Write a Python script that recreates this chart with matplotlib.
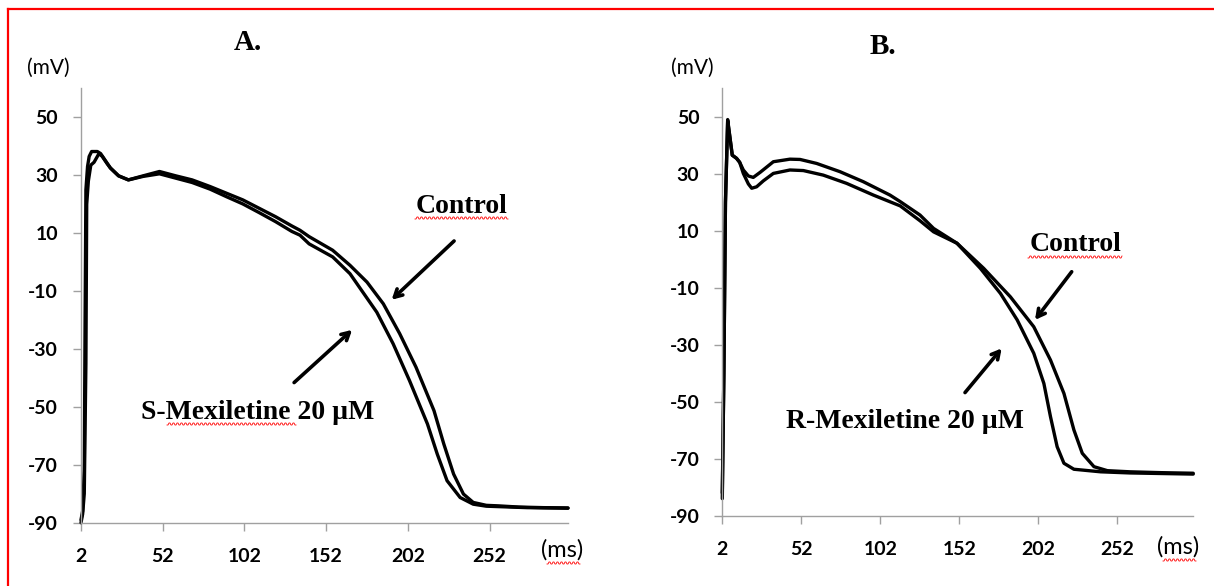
import numpy as np
import matplotlib
matplotlib.use("Agg")
import matplotlib.pyplot as plt
from matplotlib.lines import Line2D

# ---------------- data ----------------
# Panel A
a_ctrl_t = [2, 3, 4, 4.5, 5, 6, 7, 8.5, 12, 14, 17, 20, 25, 31, 40, 50, 60, 70, 81, 91,
            101, 111, 121, 131, 136, 141.6, 156, 166.6, 177, 187, 197, 207, 218, 224, 230,
            236, 242, 250, 258, 270, 285, 300]
a_ctrl_v = [-89, -86, -72, -20, 25, 33, 36.5, 38.2, 38.2, 37.5, 35, 32.5, 29.8, 28.4, 29.8,
            31.3, 29.8, 28.4, 26.1, 23.8, 21.5, 18.6, 15.7, 12.5, 11.0, 8.8, 4.1, -1.1, -6.9,
            -14.4, -24.7, -36.3, -51.3, -62.8, -73.2, -80.1, -83.0, -84.0, -84.2, -84.6,
            -84.8, -84.9]
a_smex_t = [2, 3, 4, 5, 5.5, 6.5, 8, 10, 13, 15, 18, 20, 25, 31, 40, 50, 60, 70, 81, 91,
            101, 111, 121, 131, 136, 141.6, 156, 166.6, 173, 183, 193, 203, 214, 220, 226,
            234, 242, 250, 260, 275, 300]
a_smex_v = [-90, -87, -80, -35, 20, 28, 33.5, 34.5, 37.5, 36.5, 34, 32.5, 29.8, 28.4, 29.6,
            30.5, 29.0, 27.5, 25.2, 22.6, 20.1, 17.1, 14.0, 10.6, 9.3, 6.3, 1.8, -4.0, -9.2,
            -17.3, -28.2, -40.9, -55.9, -66.3, -75.5, -81.3, -83.6, -84.3, -84.5, -84.8,
            -85.0]

# Panel B
b_ctrl_t = [2, 3, 4, 5.4, 7, 8.3, 11, 13, 15.3, 18.5, 21.6, 26, 34.3, 44.8, 51.2, 61.7,
            76.5, 91.2, 108.1, 114.6, 127.1, 135.7, 150.5, 167.4, 184.3, 199.1, 209.7,
            218.2, 224.5, 229.8, 237.2, 245.7, 260, 280, 300]
b_ctrl_v = [-84, -40, 20, 49, 42, 36.5, 35.4, 34, 31.3, 29.2, 28.7, 30.5, 34.2, 35.1, 35.0,
            33.6, 30.7, 27.2, 22.5, 20.2, 15.5, 10.8, 5.6, -3.2, -13.2, -23.7, -35.4, -47.1,
            -59.9, -68.1, -72.8, -74.2, -74.6, -74.9, -75.1]
b_rmex_t = [2, 3, 4, 5.4, 7, 8.3, 11, 13, 15.3, 18.5, 20.6, 23.7, 28, 34.3, 44.8, 53.3,
            65.9, 80.7, 97.6, 114.6, 127.1, 135.7, 150.5, 165.3, 178, 188.6, 199.1, 205.5,
            209.7, 213.9, 218.2, 224.5, 241.4, 260, 280, 300]
b_rmex_v = [-82, -40, 20, 48.5, 42, 36.5, 35.4, 34, 30.1, 26.4, 24.9, 25.4, 27.5, 30.1, 31.3,
            31.1, 29.5, 26.6, 22.5, 18.7, 13.5, 9.6, 5.6, -3.2, -12.0, -21.3, -33.0, -43.6,
            -55.3, -65.8, -71.6, -73.7, -74.6, -75.0, -75.2, -75.4]

x_ticks = [2, 52, 102, 152, 202, 252]
y_ticks = [-90, -70, -50, -30, -10, 10, 30, 50]
panel_titles = ["A.", "B."]
drug_labels = ["S-Mexiletine 20 \u00b5M", "R-Mexiletine 20 \u00b5M"]
ctrl_label = "Control"

# ---------------- figure ----------------
W, H = 1214, 586
fig = plt.figure(figsize=(W / 100, H / 100), dpi=100)
fig.patch.set_facecolor("white")

def fx(px):
    return px / W

def fy(py):
    return 1 - py / H

axA = fig.add_axes([fx(81), fy(522.7), fx(568) - fx(81), (522.7 - 88.4) / H])
axB = fig.add_axes([fx(722.3), fy(515.7), fx(1193.2) - fx(722.3), (515.7 - 88.2) / H])

tick_font = dict(family="Lato", weight="bold", size=14)
serif = dict(family="Liberation Serif", weight="bold")

for ax in (axA, axB):
    ax.set_xlim(2, 300)
    ax.set_ylim(-90, 60)
    ax.set_xticks(x_ticks)
    ax.set_yticks(y_ticks)
    ax.set_xticklabels([str(v) for v in x_ticks], fontdict=tick_font)
    ax.set_yticklabels([str(v) for v in y_ticks], fontdict=tick_font)
    for s in ("top", "right"):
        ax.spines[s].set_visible(False)
    for s in ("left", "bottom"):
        ax.spines[s].set_color("#a0a0a0")
        ax.spines[s].set_linewidth(1.0)
    ax.tick_params(axis="both", direction="out", length=5.5, width=1.0, color="#a0a0a0")
    ax.tick_params(axis="y", pad=11)
    ax.tick_params(axis="x", pad=13)
    ax.set_facecolor("white")

lw = 2.4
for ax, t, v in ((axA, a_ctrl_t, a_ctrl_v), (axA, a_smex_t, a_smex_v),
                 (axB, b_ctrl_t, b_ctrl_v), (axB, b_rmex_t, b_rmex_v)):
    ax.plot(t, v, color="black", lw=lw, solid_joinstyle="round",
            solid_capstyle="round", clip_on=False)

arrow = dict(arrowstyle="->,head_length=0.55,head_width=0.3", lw=2.6, color="black",
             shrinkA=0, shrinkB=0)

# Panel A annotations
axA.text(234.6, 19.3, ctrl_label, ha="center", va="center", fontsize=20, **serif)
axA.annotate("", xy=(192.1, -13.0), xytext=(230.3, 7.3), arrowprops=arrow)
axA.text(110.3, -52, drug_labels[0], ha="center", va="center", fontsize=20, **serif)
axA.annotate("", xy=(167.9, -23.4), xytext=(132.4, -41.6), arrowprops=arrow)

# Panel B annotations
axB.text(225.3, 5.0, ctrl_label, ha="center", va="center", fontsize=20, **serif)
axB.annotate("", xy=(199.9, -21.3), xytext=(223.1, -4.4), arrowprops=arrow)
axB.text(117.6, -57.1, drug_labels[1], ha="center", va="center", fontsize=20, **serif)
axB.annotate("", xy=(178.8, -31.3), xytext=(155.6, -46.8), arrowprops=arrow)

# Titles and units
fig.text(fx(248), fy(42), panel_titles[0], ha="center", va="center", fontsize=21, **serif)
fig.text(fx(883), fy(47), panel_titles[1], ha="center", va="center", fontsize=21, **serif)
fig.text(fx(48), fy(68), "(mV)", ha="center", va="center", family="Lato", size=15)
fig.text(fx(692), fy(68), "(mV)", ha="center", va="center", family="Lato", size=15)
fig.text(fx(562), fy(550), "(ms)", ha="center", va="center", family="Lato", size=17)
fig.text(fx(1178), fy(547), "(ms)", ha="center", va="center", family="Lato", size=17)

# spell-check style squiggles
def squiggle(x0, x1, y):
    xs = np.arange(x0, x1 + 0.5, 1.0)
    ys = y + 1.0 * np.where((np.arange(len(xs)) % 4) < 2, 1, -1)
    fig.add_artist(Line2D(xs / W, 1 - ys / H, color="red", lw=0.6))

squiggle(415, 508, 218)
squiggle(167, 296, 424)
squiggle(547, 580, 563)
squiggle(1028, 1122, 257)
squiggle(1163, 1196, 560)

# red frame (top and left)
fig.add_artist(Line2D([fx(8), 1.0], [fy(9), fy(9)], color="red", lw=1.6))
fig.add_artist(Line2D([fx(8), fx(8)], [0.0, fy(9)], color="red", lw=1.6))

fig.savefig("out.png", dpi=100)
